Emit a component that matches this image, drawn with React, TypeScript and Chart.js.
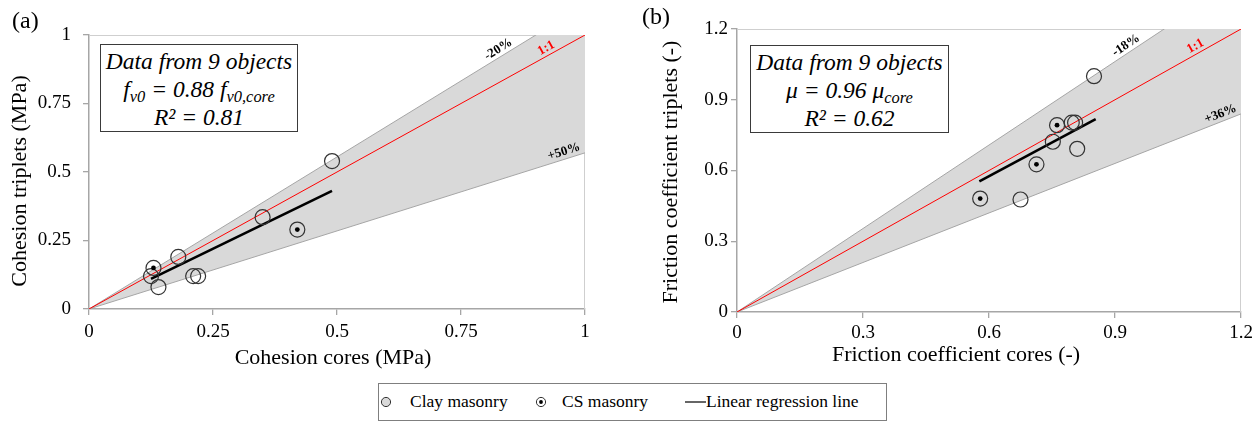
import React, { useEffect, useRef } from 'react';
import { Chart, registerables } from 'chart.js';
Chart.register(...registerables);

const FONT = "'Liberation Serif', 'Times New Roman', serif";

// ---------- Panel (a): cohesion ----------
const aClayX = [0.49, 0.35, 0.18, 0.125, 0.14, 0.21, 0.22];
const aClayY = [0.54, 0.335, 0.19, 0.12, 0.08, 0.12, 0.12];
const aCsX = [0.13, 0.42];
const aCsY = [0.15, 0.29];
const aFitX = [0.125, 0.49];
const aFitY = [0.11, 0.431];
const aOneX = [0, 1];
const aOneY = [0, 1];
const aUpperX = [0, 1];
const aUpperY = [0, 1.11];
const aLowerX = [0, 1];
const aLowerY = [0, 0.57];
const aTickLabels = ['0', '0.25', '0.5', '0.75', '1'];
const aBandLabels = ['-20%', '1:1', '+50%'];
const aBandLabelX = [0.833, 0.929, 0.962];

// ---------- Panel (b): friction coefficient ----------
const bClayX = [0.85, 0.797, 0.805, 0.752, 0.81, 0.675];
const bClayY = [1.0, 0.803, 0.803, 0.722, 0.692, 0.477];
const bCsX = [0.762, 0.713, 0.579];
const bCsY = [0.792, 0.626, 0.481];
const bFitX = [0.577, 0.854];
const bFitY = [0.554, 0.818];
const bOneX = [0, 1.2];
const bOneY = [0, 1.2];
const bUpperX = [0, 1.2];
const bUpperY = [0, 1.416];
const bLowerX = [0, 1.2];
const bLowerY = [0, 0.84];
const bTickLabels = ['0', '0.3', '0.6', '0.9', '1.2'];
const bBandLabels = ['-18%', '1:1', '+36%'];
const bBandLabelX = [0.936, 1.1, 1.158];

const pts = (xs: number[], ys: number[]) => xs.map((x, i) => ({ x, y: ys[i] }));

type Panel = {
  clayX: number[]; clayY: number[]; csX: number[]; csY: number[];
  fitX: number[]; fitY: number[]; oneX: number[]; oneY: number[];
  upX: number[]; upY: number[]; loX: number[]; loY: number[];
  max: number; step: number; ticks: string[];
  bandLabels: string[]; bandLabelX: number[];
  xTitle: string; yTitle: string;
  pad: { left: number; top: number; right: number; bottom: number };
  yWidth: number; xHeight: number; yTickPad: number; xTickPad: number;
  yTitlePos: [number, number]; xTitlePos: [number, number];
};

function makeConfig(p: Panel): any {
  const decorPlugin = {
    id: 'decor',
    beforeDatasetsDraw(chart: any) {
      const { ctx, chartArea: a } = chart;
      ctx.save();
      ctx.strokeStyle = '#cfcfcf';
      ctx.lineWidth = 1;
      ctx.beginPath();
      ctx.moveTo(a.left, a.top + 0.5);
      ctx.lineTo(a.right - 0.5, a.top + 0.5);
      ctx.lineTo(a.right - 0.5, a.bottom);
      ctx.stroke();
      ctx.restore();
    },
    afterDatasetsDraw(chart: any) {
      const { ctx } = chart;
      const xs = chart.scales.x;
      const ys = chart.scales.y;
      const lines = [
        [p.upX, p.upY, '#000'],
        [p.oneX, p.oneY, '#ff0000'],
        [p.loX, p.loY, '#000'],
      ] as any[];
      lines.forEach((ln, i) => {
        const [lx, ly, color] = ln;
        const x0 = xs.getPixelForValue(lx[0]);
        const y0 = ys.getPixelForValue(ly[0]);
        const x1 = xs.getPixelForValue(lx[1]);
        const y1 = ys.getPixelForValue(ly[1]);
        const ang = Math.atan2(y1 - y0, x1 - x0);
        const v = p.bandLabelX[i];
        const t = (v - lx[0]) / (lx[1] - lx[0]);
        const yv = ly[0] + t * (ly[1] - ly[0]);
        const px = xs.getPixelForValue(v);
        const py = ys.getPixelForValue(yv);
        ctx.save();
        ctx.translate(px, py);
        ctx.rotate(ang);
        ctx.font = `bold 13px ${FONT}`;
        ctx.fillStyle = color;
        ctx.textAlign = 'center';
        ctx.textBaseline = 'alphabetic';
        ctx.fillText(p.bandLabels[i], 0, -4);
        ctx.restore();
      });
    },
    afterDraw(chart: any) {
      const { ctx } = chart;
      ctx.save();
      ctx.font = `22px ${FONT}`;
      ctx.fillStyle = '#000';
      ctx.textAlign = 'center';
      ctx.textBaseline = 'middle';
      ctx.fillText(p.xTitle, p.xTitlePos[0], p.xTitlePos[1]);
      ctx.translate(p.yTitlePos[0], p.yTitlePos[1]);
      ctx.rotate(-Math.PI / 2);
      ctx.fillText(p.yTitle, 0, 0);
      ctx.restore();
    },
  };

  const tickFont = { family: FONT, size: 19 };

  return {
    type: 'line',
    data: {
      datasets: [
        {
          data: pts(p.upX, p.upY), borderColor: '#a6a6a6', borderWidth: 1,
          backgroundColor: '#d9d9d9', fill: '+1', pointRadius: 0, order: 10, tension: 0,
        },
        {
          data: pts(p.loX, p.loY), borderColor: '#a6a6a6', borderWidth: 1,
          fill: false, pointRadius: 0, order: 9, tension: 0,
        },
        {
          data: pts(p.oneX, p.oneY), borderColor: '#ff0000', borderWidth: 1,
          fill: false, pointRadius: 0, order: 8,
        },
        {
          data: pts(p.fitX, p.fitY), borderColor: '#000000', borderWidth: 2.6,
          fill: false, pointRadius: 0, order: 5,
        },
        {
          data: pts(p.clayX, p.clayY), showLine: false, pointRadius: 7.5,
          pointBackgroundColor: 'rgba(0,0,0,0)', pointBorderColor: '#333333',
          pointBorderWidth: 1.2, order: 3,
        },
        {
          data: pts(p.csX, p.csY), showLine: false, pointRadius: 7.5,
          pointBackgroundColor: 'rgba(0,0,0,0)', pointBorderColor: '#333333',
          pointBorderWidth: 1.2, order: 2,
        },
        {
          data: pts(p.csX, p.csY), showLine: false, pointRadius: 2.4,
          pointBackgroundColor: '#000000', pointBorderWidth: 0, order: 1,
        },
      ],
    },
    options: {
      responsive: false,
      animation: false,
      events: [],
      layout: { padding: p.pad },
      plugins: { legend: { display: false }, tooltip: { enabled: false } },
      scales: {
        x: {
          type: 'linear', min: 0, max: p.max,
          ticks: {
            stepSize: p.step, autoSkip: false, maxRotation: 0, font: tickFont, color: '#000',
            padding: p.xTickPad,
            callback: (_v: any, i: number) => p.ticks[i],
          },
          grid: { drawOnChartArea: false, drawTicks: true, tickLength: 6, color: '#a6a6a6', lineWidth: 1.3 },
          border: { display: true, color: '#a6a6a6', width: 1.5 },
          title: { display: false },
          afterFit: (s: any) => { s.height = p.xHeight; },
        },
        y: {
          type: 'linear', min: 0, max: p.max,
          ticks: {
            stepSize: p.step, autoSkip: false, font: tickFont, color: '#000',
            padding: p.yTickPad,
            callback: (_v: any, i: number) => p.ticks[i],
          },
          grid: { drawOnChartArea: false, drawTicks: true, tickLength: 6, color: '#a6a6a6', lineWidth: 1.3 },
          border: { display: true, color: '#a6a6a6', width: 1.5 },
          title: { display: false },
          afterFit: (s: any) => { s.width = p.yWidth; },
        },
      },
    },
    plugins: [decorPlugin],
  };
}

const panelA: Panel = {
  clayX: aClayX, clayY: aClayY, csX: aCsX, csY: aCsY, fitX: aFitX, fitY: aFitY,
  oneX: aOneX, oneY: aOneY, upX: aUpperX, upY: aUpperY, loX: aLowerX, loY: aLowerY,
  max: 1, step: 0.25, ticks: aTickLabels, bandLabels: aBandLabels, bandLabelX: aBandLabelX,
  xTitle: 'Cohesion cores (MPa)', yTitle: 'Cohesion triplets (MPa)',
  pad: { left: 0, top: 35, right: 35, bottom: 0 },
  yWidth: 89, xHeight: 66, yTickPad: 12, xTickPad: 6,
  yTitlePos: [20, 181], xTitlePos: [333, 358],
};

const panelB: Panel = {
  clayX: bClayX, clayY: bClayY, csX: bCsX, csY: bCsY, fitX: bFitX, fitY: bFitY,
  oneX: bOneX, oneY: bOneY, upX: bUpperX, upY: bUpperY, loX: bLowerX, loY: bLowerY,
  max: 1.2, step: 0.3, ticks: bTickLabels, bandLabels: bBandLabels, bandLabelX: bBandLabelX,
  xTitle: 'Friction coefficient cores (-)', yTitle: 'Friction coefficient triplets (-)',
  pad: { left: 0, top: 29, right: 18, bottom: 0 },
  yWidth: 97, xHeight: 63, yTickPad: 3, xTickPad: 4,
  yTitlePos: [31, 172], xTitlePos: [316, 355],
};

function ChartCanvas({ panel, left, width, height }: { panel: Panel; left: number; width: number; height: number }) {
  const ref = useRef<HTMLCanvasElement | null>(null);
  useEffect(() => {
    if (!ref.current) return;
    const chart = new Chart(ref.current, makeConfig(panel));
    return () => chart.destroy();
  }, [panel]);
  return (
    <canvas ref={ref} width={width} height={height}
      style={{ position: 'absolute', left, top: 0, width, height }} />
  );
}

const boxStyle: React.CSSProperties = {
  position: 'absolute', boxSizing: 'border-box', border: '1.5px solid #3a3a3a',
  background: '#ffffff', fontFamily: FONT, fontStyle: 'italic', fontSize: 23.5,
  textAlign: 'center', lineHeight: '28px', paddingTop: 2, whiteSpace: 'nowrap', color: '#000',
};
const subStyle: React.CSSProperties = { fontSize: '0.7em', verticalAlign: '-0.32em', lineHeight: 0 };

export default function App() {
  return (
    <div style={{ position: 'absolute', left: 0, top: 0, width: 1259, height: 428, background: '#fff', overflow: 'hidden' }}>
      <ChartCanvas panel={panelA} left={0} width={620} height={375} />
      <ChartCanvas panel={panelB} left={640} width={619} height={375} />

      <div style={{ position: 'absolute', left: 12, top: 5, fontFamily: FONT, fontSize: 24, lineHeight: '30px' }}>(a)</div>
      <div style={{ position: 'absolute', left: 642, top: 1, fontFamily: FONT, fontSize: 24, lineHeight: '30px' }}>(b)</div>

      <div style={{ ...boxStyle, left: 100, top: 44, width: 198, height: 88 }}>
        <div>Data from 9 objects</div>
        <div>f<sub style={subStyle}>v0</sub> = 0.88 f<sub style={subStyle}>v0,core</sub></div>
        <div>R² = 0.81</div>
      </div>
      <div style={{ ...boxStyle, left: 750, top: 45, width: 199, height: 88 }}>
        <div>Data from 9 objects</div>
        <div>μ = 0.96 μ<sub style={subStyle}>core</sub></div>
        <div>R² = 0.62</div>
      </div>

      <div style={{ position: 'absolute', left: 378, top: 383, width: 509, height: 38, boxSizing: 'border-box', border: '1px solid #7f7f7f', fontFamily: FONT, fontSize: 17.5, color: '#000' }}>
        <svg width={14} height={14} style={{ position: 'absolute', left: 0, top: 11 }}>
          <circle cx={7} cy={7} r={4.6} fill="#d9d9d9" stroke="#333" strokeWidth={1} />
        </svg>
        <div style={{ position: 'absolute', left: 31, top: 7, lineHeight: '20px' }}>Clay masonry</div>
        <svg width={14} height={14} style={{ position: 'absolute', left: 155, top: 11 }}>
          <circle cx={7} cy={7} r={4.6} fill="#fff" stroke="#333" strokeWidth={1} />
          <circle cx={7} cy={7} r={1.9} fill="#000" />
        </svg>
        <div style={{ position: 'absolute', left: 183, top: 7, lineHeight: '20px' }}>CS masonry</div>
        <svg width={22} height={6} style={{ position: 'absolute', left: 306, top: 15 }}>
          <line x1={0} y1={3} x2={21} y2={3} stroke="#000" strokeWidth={1.2} />
        </svg>
        <div style={{ position: 'absolute', left: 327, top: 7, lineHeight: '20px', whiteSpace: 'nowrap' }}>Linear regression line</div>
      </div>
    </div>
  );
}
